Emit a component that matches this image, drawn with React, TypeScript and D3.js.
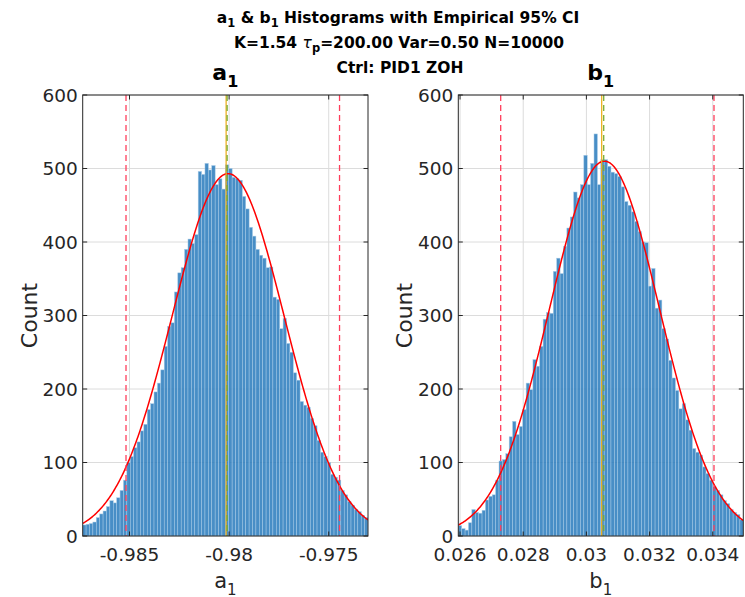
import React from "react";
import * as d3 from "d3";

// ---- a1 histogram (bin counts, left to right) ----
const a1BinStart = -0.98735;
const a1BinWidth = 0.0001705;
const a1Counts = [
  15, 16, 17, 19, 25, 30, 34, 40, 48, 45, 52, 62, 76, 100, 108, 120, 128, 143, 152, 172,
  180, 196, 208, 226, 258, 285, 290, 332, 358, 365, 390, 404, 398, 410, 496, 492, 507, 498, 504, 478,
  486, 472, 505, 500, 488, 486, 484, 462, 445, 420, 408, 390, 382, 378, 365, 366, 325, 322, 282, 296,
  262, 250, 222, 212, 183, 178, 175, 160, 150, 130, 114, 108, 100, 84, 80, 76, 62, 56, 47, 42,
  36, 33, 28, 25,
];

// ---- b1 histogram (bin counts, left to right) ----
const b1BinStart = 0.025945;
const b1BinWidth = 0.0001074;
const b1Counts = [
  14, 10, 8, 18, 36, 32, 31, 35, 49, 54, 56, 76, 102, 104, 112, 135, 156, 138, 149, 172,
  208, 199, 240, 231, 258, 295, 304, 303, 360, 378, 357, 394, 419, 434, 468, 460, 478, 518, 478, 507,
  547, 478, 512, 512, 503, 495, 493, 489, 475, 455, 450, 441, 428, 414, 400, 399, 340, 364, 310, 321,
  282, 268, 239, 215, 198, 173, 180, 158, 144, 119, 114, 110, 94, 85, 76, 67, 62, 56, 48, 44,
  36, 32, 29, 22,
];

// Normal fits (mean, std, peak count)
const a1FitMean = -0.98005;
const a1FitStd = 0.002814;
const a1FitPeak = 493;
const b1FitMean = 0.030573;
const b1FitStd = 0.001741;
const b1FitPeak = 510;

// Empirical 95% CI bounds, sample mean and median
const a1CI = [-0.985176, -0.974457];
const b1CI = [0.027287, 0.034039];
const a1Mean = -0.9801;
const a1Median = -0.98015;
const b1Mean = 0.030548;
const b1Median = 0.030484;

// Axis ticks
const a1Ticks = [-0.985, -0.98, -0.975];
const a1TickLabels = ["-0.985", "-0.98", "-0.975"];
const b1Ticks = [0.026, 0.028, 0.03, 0.032, 0.034];
const b1TickLabels = ["0.026", "0.028", "0.03", "0.032", "0.034"];
const countTicks = [0, 100, 200, 300, 400, 500, 600];
const countTickLabels = ["0", "100", "200", "300", "400", "500", "600"];

const FONT = "'DejaVu Sans', 'Liberation Sans', sans-serif";
const INK = "#262626";
const TOP = 95;
const BOTTOM = 536;
const TICK_FONT = 18.5;

type PanelProps = {
  id: string;
  x0: number;
  x1: number;
  binStart: number;
  binWidth: number;
  counts: number[];
  fitMean: number;
  fitStd: number;
  fitPeak: number;
  ci: number[];
  mean: number;
  median: number;
  ticks: number[];
  tickLabels: string[];
  symbol: string;
};

function Panel(p: PanelProps) {
  const domain = [p.binStart, p.binStart + p.counts.length * p.binWidth];
  const x = d3.scaleLinear().domain(domain).range([p.x0, p.x1]);
  const y = d3.scaleLinear().domain([0, 600]).range([BOTTOM, TOP]);
  const tickLen = 4.5;

  const curveXs = d3.range(0, 301).map((k) => domain[0] + ((domain[1] - domain[0]) * k) / 300);
  const line = d3
    .line<number>()
    .x((v) => x(v))
    .y((v) => y(p.fitPeak * Math.exp(-0.5 * ((v - p.fitMean) / p.fitStd) ** 2)));

  const cx = (p.x0 + p.x1) / 2;

  return (
    <g>
      <defs>
        <clipPath id={`clip-${p.id}`}>
          <rect x={p.x0} y={TOP} width={p.x1 - p.x0} height={BOTTOM - TOP} />
        </clipPath>
      </defs>
      <rect x={p.x0} y={TOP} width={p.x1 - p.x0} height={BOTTOM - TOP} fill="#ffffff" />
      {/* grid */}
      {p.ticks.map((t) => (
        <line key={`gx${t}`} x1={x(t)} x2={x(t)} y1={TOP} y2={BOTTOM} stroke="#dcdcdc" strokeWidth={1} />
      ))}
      {countTicks.map((t) => (
        <line key={`gy${t}`} x1={p.x0} x2={p.x1} y1={y(t)} y2={y(t)} stroke="#dcdcdc" strokeWidth={1} />
      ))}
      <g clipPath={`url(#clip-${p.id})`}>
        {/* bars */}
        {p.counts.map((c, i) => {
          const bx0 = x(p.binStart + i * p.binWidth);
          const bx1 = x(p.binStart + (i + 1) * p.binWidth);
          return (
            <rect
              key={i}
              x={bx0}
              y={y(c)}
              width={bx1 - bx0}
              height={BOTTOM - y(c)}
              fill="#2a7bbd"
              fillOpacity={0.86}
              stroke="#a8cbe7"
              strokeWidth={0.5}
            />
          );
        })}
        {/* fitted normal */}
        <path d={line(curveXs) || ""} fill="none" stroke="#ff0000" strokeWidth={1.5} />
        {/* CI bounds */}
        {p.ci.map((v, i) => (
          <line
            key={`ci${i}`}
            x1={x(v)}
            x2={x(v)}
            y1={TOP}
            y2={BOTTOM}
            stroke="#ff3d5a"
            strokeWidth={1.3}
            strokeDasharray="6,4"
          />
        ))}
        {/* median and mean */}
        <line x1={x(p.median)} x2={x(p.median)} y1={TOP} y2={BOTTOM} stroke="#edb120" strokeWidth={1.3} />
        <line
          x1={x(p.mean)}
          x2={x(p.mean)}
          y1={TOP}
          y2={BOTTOM}
          stroke="#77ac30"
          strokeWidth={1.3}
          strokeDasharray="6,4"
        />
      </g>
      {/* box */}
      <rect x={p.x0} y={TOP} width={p.x1 - p.x0} height={BOTTOM - TOP} fill="none" stroke={INK} strokeWidth={1} />
      {/* ticks */}
      {p.ticks.map((t) => (
        <g key={`tx${t}`}>
          <line x1={x(t)} x2={x(t)} y1={BOTTOM} y2={BOTTOM - tickLen} stroke={INK} />
          <line x1={x(t)} x2={x(t)} y1={TOP} y2={TOP + tickLen} stroke={INK} />
        </g>
      ))}
      {countTicks.map((t) => (
        <g key={`ty${t}`}>
          <line x1={p.x0} x2={p.x0 + tickLen} y1={y(t)} y2={y(t)} stroke={INK} />
          <line x1={p.x1} x2={p.x1 - tickLen} y1={y(t)} y2={y(t)} stroke={INK} />
        </g>
      ))}
      {/* tick labels */}
      {p.ticks.map((t, i) => (
        <text key={`lx${t}`} x={x(t)} y={561} textAnchor="middle" fontSize={TICK_FONT} fill={INK} fontFamily={FONT}>
          {p.tickLabels[i]}
        </text>
      ))}
      {countTicks.map((t, i) => (
        <text
          key={`ly${t}`}
          x={p.x0 - 5}
          y={y(t)}
          dy="0.36em"
          textAnchor="end"
          fontSize={TICK_FONT}
          fill={INK}
          fontFamily={FONT}
        >
          {countTickLabels[i]}
        </text>
      ))}
      {/* axis labels */}
      <text
        transform={`translate(${p.x0 - 46},${(TOP + BOTTOM) / 2}) rotate(-90)`}
        textAnchor="middle"
        fontSize={22}
        fill={INK}
        fontFamily={FONT}
      >
        Count
      </text>
      <text x={cx} y={588} textAnchor="middle" fontSize={21} fill={INK} fontFamily={FONT}>
        {p.symbol}
        <tspan dy={7} fontSize={15}>
          1
        </tspan>
      </text>
      {/* panel title */}
      <text x={cx} y={80} textAnchor="middle" fontSize={22} fontWeight="bold" fill="#000" fontFamily={FONT}>
        {p.symbol}
        <tspan dy={7} fontSize={16}>
          1
        </tspan>
      </text>
    </g>
  );
}

export default function App() {
  const titleSize = 15.5;
  const subSize = 11.5;
  return (
    <svg
      width={745}
      height={597}
      style={{ position: "absolute", left: 0, top: 0, background: "#fff" }}
      fontFamily={FONT}
    >
      <rect width={745} height={597} fill="#ffffff" />
      <text x={398} y={23} textAnchor="middle" fontSize={titleSize} fontWeight="bold" fill="#000">
        a
        <tspan dy={4} fontSize={subSize}>
          1
        </tspan>
        <tspan dy={-4}> &amp; b</tspan>
        <tspan dy={4} fontSize={subSize}>
          1
        </tspan>
        <tspan dy={-4}> Histograms with Empirical 95% CI</tspan>
      </text>
      <text x={399} y={48} textAnchor="middle" fontSize={titleSize} fontWeight="bold" fill="#000">
        K=1.54{" "}
        <tspan fontStyle="italic" fontWeight="normal">
          τ
        </tspan>
        <tspan dy={4} fontSize={subSize}>
          p
        </tspan>
        <tspan dy={-4}>=200.00 Var=0.50 N=10000</tspan>
      </text>
      <text x={400} y={73} textAnchor="middle" fontSize={titleSize} fontWeight="bold" fill="#000">
        Ctrl: PID1 ZOH
      </text>
      <Panel
        id="a1"
        x0={82.7}
        x1={368}
        binStart={a1BinStart}
        binWidth={a1BinWidth}
        counts={a1Counts}
        fitMean={a1FitMean}
        fitStd={a1FitStd}
        fitPeak={a1FitPeak}
        ci={a1CI}
        mean={a1Mean}
        median={a1Median}
        ticks={a1Ticks}
        tickLabels={a1TickLabels}
        symbol="a"
      />
      <Panel
        id="b1"
        x0={458.3}
        x1={743.3}
        binStart={b1BinStart}
        binWidth={b1BinWidth}
        counts={b1Counts}
        fitMean={b1FitMean}
        fitStd={b1FitStd}
        fitPeak={b1FitPeak}
        ci={b1CI}
        mean={b1Mean}
        median={b1Median}
        ticks={b1Ticks}
        tickLabels={b1TickLabels}
        symbol="b"
      />
    </svg>
  );
}
